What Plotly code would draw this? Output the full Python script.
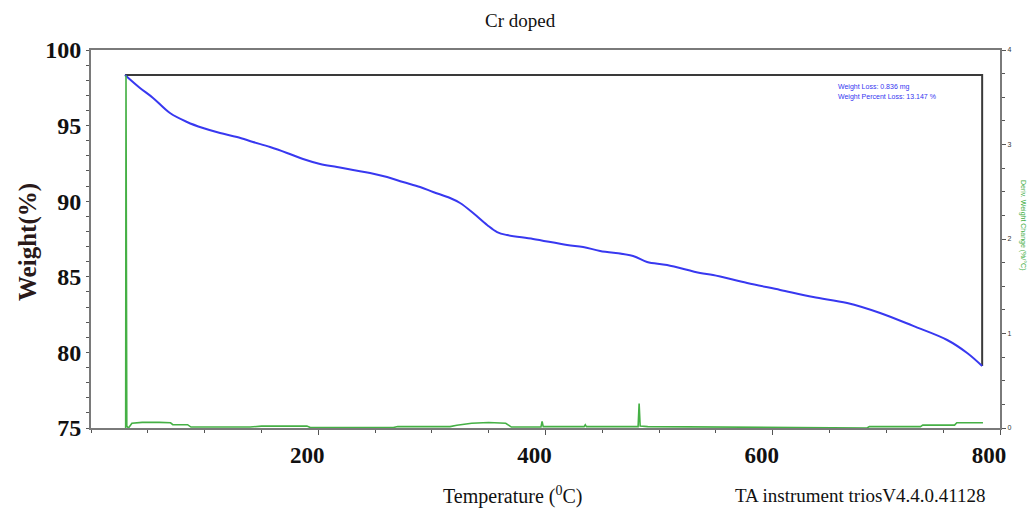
import plotly.graph_objects as go

# --- Data ---
temp_weight = [29.9, 43.1, 54.6, 69.5, 84.5, 98.6, 113.6, 128.5, 142.6, 157.6, 172.5, 186.6,
               201.6, 216.5, 230.6, 245.6, 260.6, 274.6, 289.6, 301.1, 316.0, 324.8, 336.3,
               348.6, 357.4, 366.2, 389.1, 419.0, 433.1, 448.1, 477.1, 489.4, 507.0, 536.1,
               547.5, 577.5, 606.5, 635.6, 665.5, 694.5, 723.6, 753.5, 771.1, 784.3]
weight_pct = [98.35, 97.49, 96.83, 95.83, 95.24, 94.84, 94.51, 94.25, 93.92, 93.58, 93.19, 92.79,
              92.46, 92.26, 92.06, 91.87, 91.60, 91.27, 90.94, 90.61, 90.21, 89.88, 89.22,
              88.43, 87.96, 87.76, 87.50, 87.10, 86.97, 86.71, 86.38, 85.98, 85.78, 85.25,
              85.12, 84.59, 84.13, 83.66, 83.27, 82.61, 81.75, 80.82, 79.96, 79.10]

temp_deriv = [30.5, 30.8, 31.5, 33, 36, 45, 60, 70, 72, 85, 88, 140, 150, 190, 193, 266, 270,
              316, 322, 335, 350, 365, 370, 396, 397, 398, 434, 435, 436, 481.5, 482.4, 483.3,
              490, 683, 685, 730, 732, 760, 762, 785]
deriv_weight = [0.0, 3.73, 0.02, 0.0, 0.05, 0.06, 0.06, 0.055, 0.035, 0.035, 0.01, 0.01, 0.02,
                0.02, 0.005, 0.005, 0.015, 0.015, 0.03, 0.05, 0.058, 0.05, 0.01, 0.01, 0.07,
                0.015, 0.015, 0.035, 0.015, 0.015, 0.26, 0.02, 0.015, 0.0, 0.015, 0.015, 0.03,
                0.03, 0.055, 0.055]

# weight-loss marker (start / end of the analysed step)
loss_start_temp, loss_end_temp = temp_weight[0], temp_weight[-1]
loss_start_w, loss_end_w = weight_pct[0], weight_pct[-1]

x_ticks = [200, 400, 600, 800]
y_ticks = [75, 80, 85, 90, 95, 100]
y2_ticks = [0, 1, 2, 3, 4]

SERIF = "Liberation Serif, Times New Roman, serif"
SANS = "Liberation Sans, Arial, sans-serif"

L, R, T, B = 91, 1000, 50, 428   # plot-area pixel box
W, H = 1035, 514

fig = go.Figure()

fig.add_trace(go.Scatter(
    x=[loss_start_temp, loss_end_temp, loss_end_temp],
    y=[loss_start_w, loss_start_w, loss_end_w],
    mode="lines", line=dict(color="#3a3a3a", width=2), hoverinfo="skip", showlegend=False))

fig.add_trace(go.Scatter(
    x=temp_deriv, y=deriv_weight, yaxis="y2", mode="lines",
    line=dict(color="#45b045", width=1.6), showlegend=False))

fig.add_trace(go.Scatter(
    x=temp_weight, y=weight_pct, mode="lines", line_shape="spline",
    line=dict(color="#3838f0", width=2), showlegend=False))

fig.update_layout(
    width=W, height=H,
    margin=dict(l=L, r=W - R, t=T, b=H - B, autoexpand=False),
    paper_bgcolor="white", plot_bgcolor="white",
    showlegend=False,
    xaxis=dict(range=[0, 800], tickvals=x_ticks, automargin=False,
               showline=True, linecolor="#7a7a7a", linewidth=2, mirror=True,
               ticks="outside", ticklen=5, tickcolor="#555",
               minor=dict(dtick=50, ticks="outside", ticklen=3, tickcolor="#555"),
               showgrid=False, zeroline=False, ticklabelshift=-11,
               tickfont=dict(family=SERIF, size=23, color="#111", weight="bold"),
               ),
    yaxis=dict(range=[75, 100], tickvals=y_ticks, automargin=False,
               showline=True, linecolor="#7a7a7a", linewidth=2, mirror=True,
               ticks="outside", ticklen=3, tickcolor="#555",
               minor=dict(dtick=1, ticks="outside", ticklen=3, tickcolor="#555"),
               showgrid=False, zeroline=False,
               tickfont=dict(family=SERIF, size=24, color="#111", weight="bold"),
               ),
    yaxis2=dict(range=[0, 4], tickvals=y2_ticks, overlaying="y", side="right",
                automargin=False,
                showline=True, linecolor="#7a7a7a", linewidth=2,
                ticks="outside", ticklen=4, tickcolor="#555",
                minor=dict(dtick=0.25, ticks="outside", ticklen=3, tickcolor="#555"),
                showgrid=False, zeroline=False,
                tickfont=dict(family=SANS, size=7, color="#333"),
                ),
)

annotations = [
    dict(text="Cr doped", x=520, y=20, font=dict(family=SERIF, size=19, color="#111")),
    dict(text="Weight(%)", x=28, y=242, textangle=-90,
         font=dict(family=SERIF, size=25, color="#2a1a1a", weight="bold")),
    dict(text="Temperature (<sup>0</sup>C)", x=512, y=495,
         font=dict(family=SERIF, size=20, color="#111")),
    dict(text="TA instrument triosV4.4.0.41128", x=860, y=495,
         font=dict(family=SERIF, size=19, color="#111")),
    dict(text="Weight Loss: 0.836 mg", x=836, y=87, xanchor="left",
         font=dict(family=SANS, size=7, color="#3535f0")),
    dict(text="Weight Percent Loss: 13.147 %", x=836, y=97, xanchor="left",
         font=dict(family=SANS, size=7, color="#3535f0")),
    dict(text="Deriv. Weight Change (%/°C)", x=1023, y=225, textangle=90,
         font=dict(family=SANS, size=7, color="#3fae3f")),
]
for a in annotations:
    px, py = a.pop("x"), a.pop("y")
    xa = a.pop("xanchor", "center")
    fig.add_annotation(x=(px - L) / (R - L), y=(B - py) / (B - T),
                       xref="paper", yref="paper", xanchor=xa, yanchor="middle",
                       showarrow=False, **a)

fig.write_html("out.html", config={"displayModeBar": False},
               post_script="document.body.style.margin='0';document.body.style.overflow='hidden';")
